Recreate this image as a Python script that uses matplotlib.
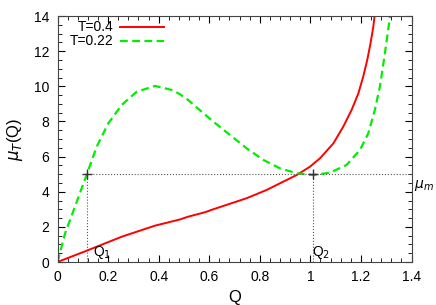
import numpy as np
import matplotlib.pyplot as plt
from matplotlib.ticker import MultipleLocator

plt.rcParams['font.family'] = ['Liberation Sans', 'DejaVu Sans']

# values
q_hot = [0.0, 0.115, 0.188, 0.254, 0.386, 0.484, 0.517, 0.583, 0.616, 0.748,
         0.827, 0.880, 0.946, 0.998, 1.038, 1.091, 1.130, 1.163, 1.190,
         1.209, 1.225, 1.238, 1.249, 1.254, 1.256]
mu_hot = [0.0, 0.64, 1.06, 1.44, 2.07, 2.42, 2.58, 2.83, 3.00, 3.63,
          4.10, 4.48, 4.95, 5.42, 5.90, 6.75, 7.70, 8.65, 9.60,
          10.55, 11.50, 12.45, 13.39, 14.0, 14.3]

q_cold = [0.0, 0.030, 0.069, 0.115, 0.155, 0.201, 0.254, 0.313, 0.386, 0.452,
          0.484, 0.517, 0.550, 0.616, 0.682, 0.748, 0.814, 0.880, 0.946,
          1.012, 1.077, 1.143, 1.196, 1.229, 1.255, 1.275, 1.291, 1.304,
          1.315, 1.317]
mu_cold = [0.0, 1.63, 3.15, 4.95, 6.56, 7.89, 8.94, 9.69, 10.02, 9.79,
           9.55, 9.22, 8.80, 7.99, 7.23, 6.47, 5.81, 5.33, 5.05,
           4.95, 5.08, 5.52, 6.37, 7.32, 8.65, 9.98, 11.50, 12.82,
           13.96, 14.3]

q1, q2, mu_m = 0.115, 1.012, 5.0

fig = plt.figure(figsize=(4.36, 3.05), dpi=100)
ax = fig.add_axes([57.5 / 436, 43 / 305, 354 / 436, 246 / 305])

ax.plot(q_hot, mu_hot, color='#ff0000', lw=1.4, label='T=0.4')
ax.plot(q_cold, mu_cold, color='#00ee00', lw=1.6, ls=(0, (3.5, 2)), label='T=0.22')

# construction lines
ax.plot([q1, 1.4], [mu_m, mu_m], color='#555555', ls=':', lw=0.8)
ax.plot([q1, q1], [0, mu_m], color='#555555', ls=':', lw=0.8)
ax.plot([q2, q2], [0, mu_m], color='#555555', ls=':', lw=0.8)
ax.plot([q1, q2], [mu_m, mu_m], ls='none', marker='+', ms=7, mew=1, color='#333333')

ax.text(q1 + 0.025, 0.35, r'Q$_1$', fontsize=10)
ax.text(q2 - 0.005, 0.35, r'Q$_2$', fontsize=10)
ax.text(1.41, 4.2, r'$\mu_m$', fontsize=10, clip_on=False)

ax.set_xlim(0, 1.4)
ax.set_ylim(0, 14)
ax.xaxis.set_minor_locator(MultipleLocator(0.04))
ax.yaxis.set_major_locator(MultipleLocator(2))
ax.yaxis.set_minor_locator(MultipleLocator(0.5))
ax.set_xticks(np.arange(0, 1.41, 0.2))
ax.set_xticklabels(['0', '0.2', '0.4', '0.6', '0.8', '1', '1.2', '1.4'])
ax.tick_params(which='both', direction='in', top=True, right=True, labelsize=10, pad=6)
ax.tick_params(which='major', length=5)
ax.tick_params(which='minor', length=3)
for s in ax.spines.values():
    s.set_color('#444444')

ax.set_xlabel('Q', fontsize=12, labelpad=4)
ax.set_ylabel(r'$\mu_T$(Q)', fontsize=12, labelpad=6)

ax.legend(loc='upper left', frameon=False, markerfirst=False, fontsize=10,
          handlelength=3.1, handletextpad=0.5, borderaxespad=0.1,
          labelspacing=0.0, bbox_to_anchor=(0.015, 1.01))

fig.savefig('out.png', dpi=100)
